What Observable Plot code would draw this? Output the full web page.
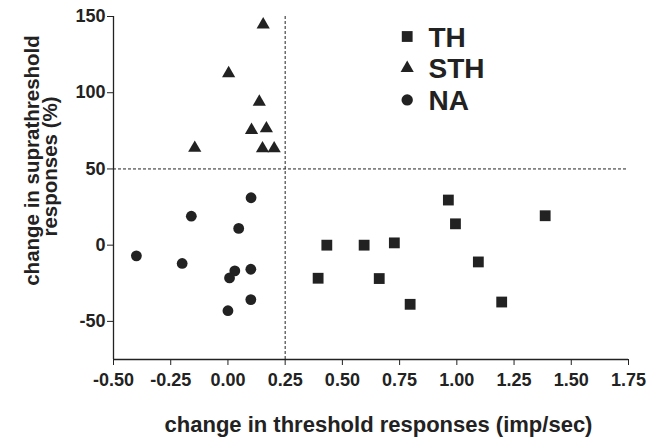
<!DOCTYPE html>
<html>
<head>
<meta charset="utf-8">
<script src="https://cdn.jsdelivr.net/npm/d3@7"></script>
<script src="https://cdn.jsdelivr.net/npm/@observablehq/plot@0.6"></script>
<style>
  html, body { margin: 0; padding: 0; background: #fff; }
  #chart { width: 648px; height: 437px; }
</style>
</head>
<body>
<div id="chart"></div>
<script>
// ---- data ----
const seriesNames = ["TH", "STH", "NA"];

const thX  = [0.963, 0.994, 1.386, 0.432, 0.595, 0.727, 0.661, 0.796, 1.094, 1.196, 0.394];
const thY  = [29.6, 14.0, 19.3, 0.0, 0.0, 1.5, -21.9, -38.8, -11.0, -37.3, -21.7];

const sthX = [0.154, 0.003, 0.137, 0.103, 0.168, -0.145, 0.151, 0.202];
const sthY = [144.7, 112.7, 94.0, 75.5, 76.5, 63.7, 63.4, 63.4];

const naX  = [0.101, -0.160, 0.047, -0.400, -0.200, 0.030, 0.100, 0.007, 0.100, 0.000];
const naY  = [31.1, 19.0, 11.0, -7.0, -12.0, -16.9, -15.8, -21.5, -35.7, -43.0];

const xTicks = [-0.5, -0.25, 0, 0.25, 0.5, 0.75, 1.0, 1.25, 1.5, 1.75];
const yTicks = [-50, 0, 50, 100, 150];
const xDomain = [-0.5, 1.75];
const yDomain = [-75, 150];
const refX = [0.25];
const refY = [50];

const xTitle = "change in threshold responses (imp/sec)";
const yTitleLines = ["change in suprathreshold", "responses (%)"];

// ---- build ----
const toRows = (xs, ys) => xs.map((x, i) => ({x, y: ys[i]}));
const th = toRows(thX, thY), sth = toRows(sthX, sthY), na = toRows(naX, naY);

const ink = "#222";
const font = "'Liberation Sans', Arial, Helvetica, sans-serif";
const symbols = {TH: "square", STH: "triangle", NA: "circle"};
const radii = {TH: 6.1, STH: 4.9, NA: 5.4};

const legendMarks = seriesNames.flatMap((name, i) => [
  Plot.dot([name], {frameAnchor: "top-left", dx: 293.7, dy: 20 + i * 31.7,
    symbol: symbols[name], r: radii[name] * (name === "NA" ? 1.05 : 1.0), fill: ink, stroke: null}),
  Plot.text([name], {frameAnchor: "top-left", dx: 315, dy: 21.5 + i * 31.3,
    text: d => d, textAnchor: "start", lineAnchor: "middle",
    fontSize: 28, fontWeight: "bold", fill: ink})
]);

const chart = Plot.plot({
  width: 648,
  height: 437,
  marginLeft: 113,
  marginRight: 20,
  marginTop: 16,
  marginBottom: 78,
  style: {fontFamily: font, fontSize: "18px", fontWeight: "bold", color: ink, background: "#fff"},
  x: {domain: xDomain},
  y: {domain: yDomain},
  marks: [
    Plot.ruleX(refX, {y1: yDomain[0], y2: yDomain[1], stroke: ink, strokeWidth: 1, strokeDasharray: "3,2"}),
    Plot.ruleY(refY, {x1: xDomain[0], x2: xDomain[1], stroke: ink, strokeWidth: 1, strokeDasharray: "3,2"}),
    Plot.axisX({ticks: xTicks, tickFormat: d => d.toFixed(2), tickSize: 6, tickPadding: 8,
      label: null, stroke: ink, fill: ink, fontSize: 18, fontWeight: "bold"}),
    Plot.axisY({ticks: yTicks, tickFormat: d => String(d), tickSize: 6, tickPadding: 2,
      label: null, stroke: ink, fill: ink, fontSize: 18, fontWeight: "bold"}),
    Plot.ruleY([yDomain[0]], {stroke: ink, strokeWidth: 1.3}),
    Plot.ruleX([xDomain[0]], {stroke: ink, strokeWidth: 1.3}),
    Plot.dot(th, {x: "x", y: "y", symbol: "square", r: radii.TH, fill: ink, stroke: null}),
    Plot.dot(sth, {x: "x", y: "y", symbol: "triangle", r: radii.STH, fill: ink, stroke: null}),
    Plot.dot(na, {x: "x", y: "y", symbol: "circle", r: radii.NA, fill: ink, stroke: null}),
    Plot.text([xTitle], {frameAnchor: "bottom", dx: 7.5, dy: 72, text: d => d,
      textAnchor: "middle", lineAnchor: "bottom", fontSize: 22, fontWeight: "bold", fill: ink}),
    Plot.text([yTitleLines[0]], {frameAnchor: "left", dx: -75, dy: -27.5, rotate: -90, text: d => d,
      textAnchor: "middle", lineAnchor: "bottom", fontSize: 20.5, fontWeight: "bold", fill: ink}),
    Plot.text([yTitleLines[1]], {frameAnchor: "left", dx: -57, dy: -21.5, rotate: -90, text: d => d,
      textAnchor: "middle", lineAnchor: "bottom", fontSize: 20.5, fontWeight: "bold", fill: ink}),
    ...legendMarks
  ]
});
document.getElementById("chart").appendChild(chart);
</script>
</body>
</html>
